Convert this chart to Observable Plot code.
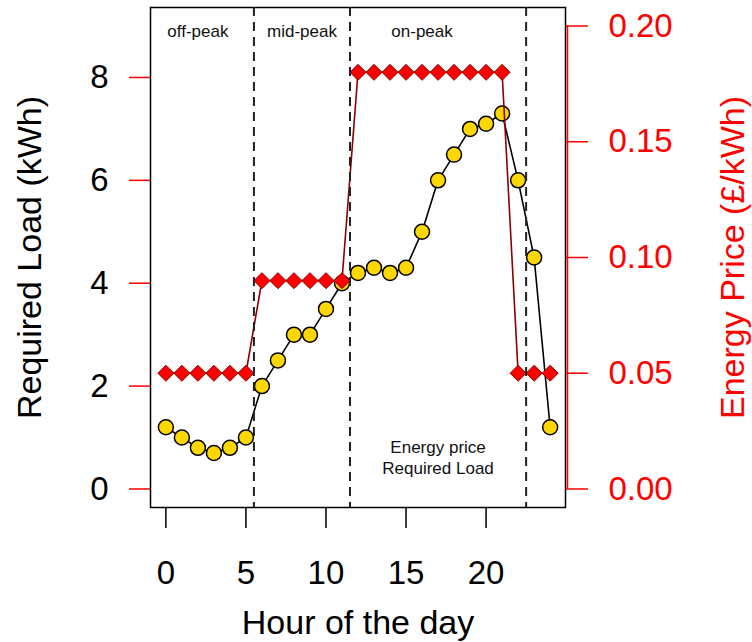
<!DOCTYPE html>
<html>
<head>
<meta charset="utf-8">
<script src="https://cdn.jsdelivr.net/npm/d3@7"></script>
<script src="https://cdn.jsdelivr.net/npm/@observablehq/plot@0.6"></script>
<style>
  html, body { margin: 0; padding: 0; background: #fff; }
</style>
</head>
<body>
<div id="chart"></div>
<script>
// Hourly required load (kWh) and tariff (£/kWh) over one day
const hours = d3.range(0, 25);
const load = [1.2, 1.0, 0.8, 0.7, 0.8, 1.0,
              2.0, 2.5, 3.0, 3.0, 3.5, 4.0,
              4.2, 4.3, 4.2, 4.3, 5.0, 6.0, 6.5, 7.0, 7.1, 7.3,
              6.0, 4.5, 1.2];
const price = [0.05, 0.05, 0.05, 0.05, 0.05, 0.05,
               0.09, 0.09, 0.09, 0.09, 0.09, 0.09,
               0.18, 0.18, 0.18, 0.18, 0.18, 0.18, 0.18, 0.18, 0.18, 0.18,
               0.05, 0.05, 0.05];

// Tariff periods
const periodBreaks = [5.5, 11.5, 22.5];
const periodNames = ["off-peak", "mid-peak", "on-peak"];
const periodLabelHours = [2, 8.5, 16];
const periodLabelLoad = 8.9;

// Key text
const legendLines = ["Energy price", "Required Load"];
const legendHour = 17;
const legendLoad = [0.8, 0.4];

// Axis ticks
const hourTicks = [0, 5, 10, 15, 20];
const loadTicks = [0, 2, 4, 6, 8];
const priceTicks = [0, 0.05, 0.10, 0.15, 0.20];

// The price axis maps 0–0.20 £/kWh onto 0–9 kWh of the shared vertical scale
const K = 9 / 0.20;
const xDomain = [-0.96, 24.96];
const yDomain = [-0.36, 9.36];

const rows = hours.map((h, i) => ({hour: h, load: load[i], price: price[i] * K}));
const font = "'Liberation Sans', Arial, Helvetica, sans-serif";

const chart = Plot.plot({
  width: 752,
  height: 642,
  marginLeft: 150,
  marginRight: 187,
  marginTop: 7,
  marginBottom: 135,
  x: {domain: xDomain},
  y: {domain: yDomain},
  style: {fontFamily: font, fontSize: "33px", background: "white", overflow: "visible"},
  marks: [
    Plot.axisX(hourTicks, {anchor: "bottom", tickSize: 21, tickPadding: 32, fontSize: 33,
                           strokeWidth: 1.5, color: "black", label: null,
                           tickFormat: d => String(d)}),
    Plot.axisY(loadTicks, {anchor: "left", tickSize: 21, tickPadding: 21, fontSize: 33,
                           color: "black", stroke: "red", strokeWidth: 1.5, label: null,
                           tickFormat: d => String(d)}),
    Plot.axisY(priceTicks.map(p => p * K), {anchor: "right", tickSize: 22, tickPadding: 21, fontSize: 33,
                           color: "red", strokeWidth: 1.5, label: null,
                           tickFormat: v => (v / K).toFixed(2)}),
    Plot.ruleX([xDomain[1]], {y1: priceTicks[0] * K, y2: priceTicks[priceTicks.length - 1] * K,
                              dx: 2, stroke: "red", strokeWidth: 1.5}),
    Plot.frame({stroke: "black", strokeWidth: 1.5}),
    Plot.line(rows, {x: "hour", y: "load", stroke: "black", strokeWidth: 1.6}),
    Plot.dot(rows, {x: "hour", y: "load", r: 7.5, fill: "#FFD700", stroke: "black", strokeWidth: 1.5}),
    Plot.line(rows, {x: "hour", y: "price", stroke: "#8B0000", strokeWidth: 1.6}),
    Plot.dot(rows, {x: "hour", y: "price", symbol: "diamond2", r: 7.2, fill: "#FF0000",
                    stroke: "#8B0000", strokeWidth: 1}),
    Plot.ruleX(periodBreaks, {stroke: "#222", strokeWidth: 2, strokeDasharray: "9,6"}),
    Plot.text(periodNames, {x: (d, i) => periodLabelHours[i], y: periodLabelLoad, text: d => d,
                            fontSize: 17, fill: "#111"}),
    Plot.text(legendLines, {x: legendHour, y: (d, i) => legendLoad[i], text: d => d,
                            fontSize: 17, fill: "#111"}),
    Plot.text(["Hour of the day"], {frameAnchor: "bottom", lineAnchor: "bottom", dy: 126,
                                    fontSize: 34, fill: "black"}),
    Plot.text(["Required Load (kWh)"], {frameAnchor: "left", textAnchor: "middle", rotate: -90,
                                        lineAnchor: "bottom", dx: -110, fontSize: 34, fill: "black"}),
    Plot.text(["Energy Price (£/kWh)"], {frameAnchor: "right", textAnchor: "middle", rotate: -90,
                                         lineAnchor: "bottom", dx: 178, fontSize: 34, fill: "red"})
  ]
});

document.getElementById("chart").appendChild(chart);
</script>
</body>
</html>
